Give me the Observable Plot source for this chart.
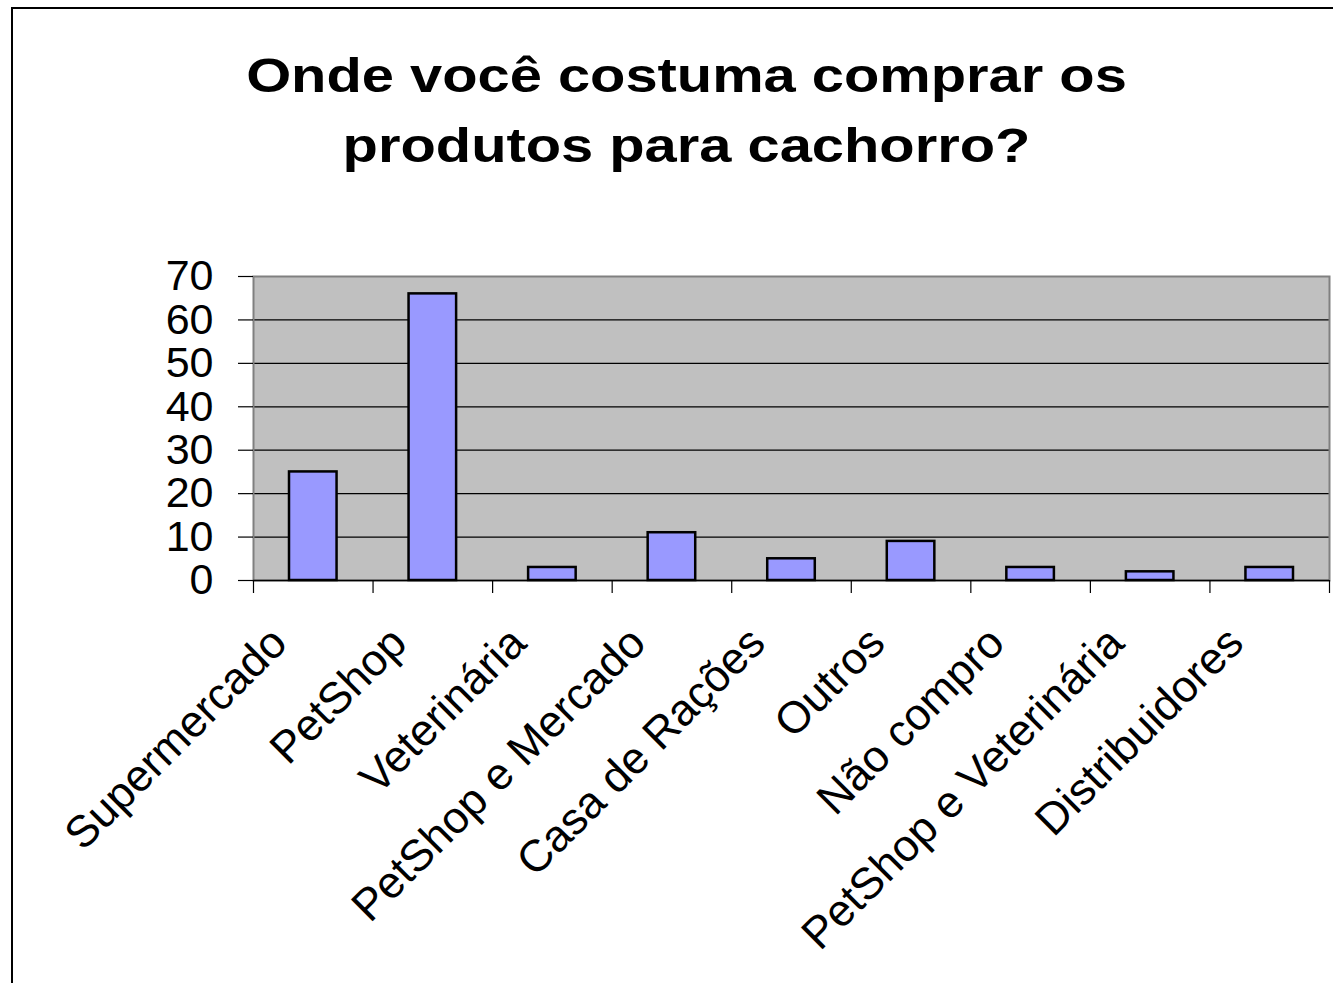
<!DOCTYPE html>
<html>
<head>
<meta charset="utf-8">
<script src="https://cdn.jsdelivr.net/npm/d3@7"></script>
<script src="https://cdn.jsdelivr.net/npm/@observablehq/plot@0.6"></script>
<style>
  html, body { margin: 0; padding: 0; background: #fff; overflow: hidden; }
  body { width: 1333px; height: 983px; position: relative; font-family: "Liberation Sans", Arial, sans-serif; }
  #frame { position: absolute; left: 11px; top: 7px; width: 1340px; height: 1000px;
           border-left: 2px solid #000; border-top: 2px solid #000; box-sizing: border-box; }
  #title { position: absolute; left: 20px; width: 1333px; top: 41px; text-align: center;
           font-size: 48px; font-weight: bold; line-height: 70px; color: #000;
           transform: scaleX(1.205); transform-origin: 666.5px 0; }
  #chart { position: absolute; left: 0; top: 200px; }
</style>
</head>
<body>
<div id="frame"></div>
<div id="title">Onde você costuma comprar os<br>produtos para cachorro?</div>
<div id="chart"></div>
<script>
const categories = ["Supermercado", "PetShop", "Veterinária", "PetShop e Mercado", "Casa de Rações", "Outros", "Não compro", "PetShop e Veterinária", "Distribuidores"];
const values = [25, 66, 3, 11, 5, 9, 3, 2, 3];
const yTicks = [0, 10, 20, 30, 40, 50, 60, 70];

const table = categories.map((c, i) => ({i, category: c, value: values[i]}));
const boundaries = d3.range(categories.length + 1);

const chart = Plot.plot({
  width: 1333,
  height: 783,
  marginLeft: 253,
  marginRight: 4,
  marginTop: 76,
  marginBottom: 403,
  style: {fontFamily: "'Liberation Sans', Arial, sans-serif", background: "transparent", color: "#000", overflow: "visible"},
  x: {type: "linear", domain: [0, categories.length]},
  y: {domain: [0, 70]},
  marks: [
    Plot.frame({fill: "#C0C0C0", stroke: "none"}),
    Plot.ruleY(yTicks.filter(v => v > 0 && v < 70), {stroke: "#000", strokeWidth: 1.2}),
    Plot.frame({stroke: "#808080", strokeWidth: 2, fill: "none"}),
    Plot.axisY({ticks: yTicks, tickSize: 15, tickPadding: 25, fontSize: 43, stroke: "#000", strokeWidth: 1.2, label: null}),
    Plot.rectY(table, {x1: "i", x2: d => d.i + 1, y: "value", fill: "#9999FF", stroke: "#000", strokeWidth: 2.5, insetLeft: 36, insetRight: 36}),
    Plot.ruleY([0], {stroke: "#000", strokeWidth: 1.5}),
    Plot.axisX({ticks: boundaries, tickSize: 13, tickFormat: () => "", stroke: "#000", strokeWidth: 1.2, label: null}),
    Plot.text(table, {x: d => d.i + 0.5, frameAnchor: "bottom", text: "category", rotate: -45, textAnchor: "end", lineAnchor: "middle", fontSize: 44.5, dx: -34, dy: 55, fill: "#000"})
  ]
});
document.getElementById("chart").appendChild(chart);
</script>
</body>
</html>
